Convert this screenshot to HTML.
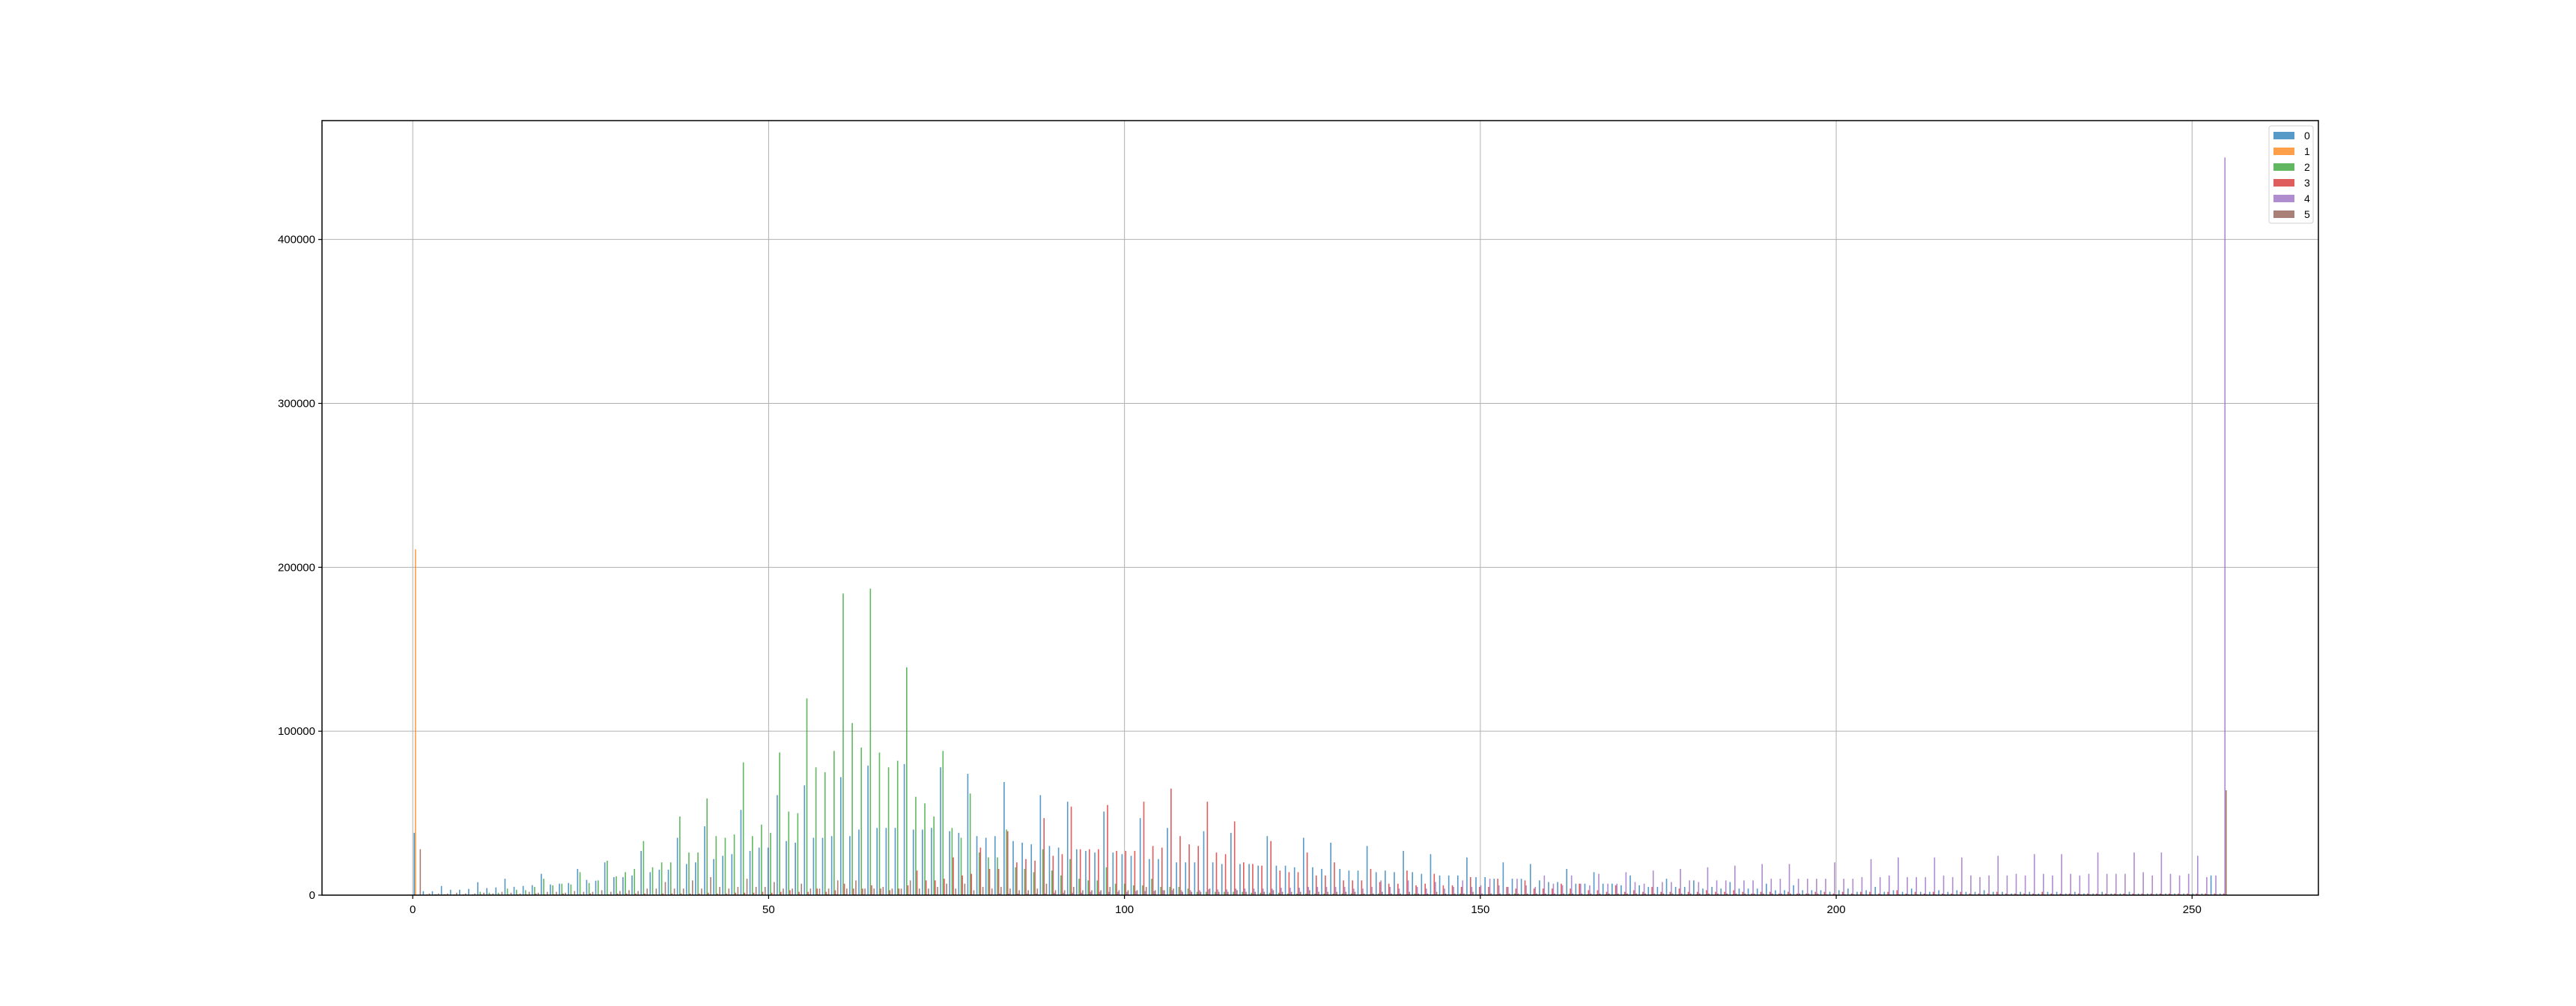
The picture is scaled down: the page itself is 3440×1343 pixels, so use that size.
<!DOCTYPE html>
<html>
<head>
<meta charset="utf-8">
<style>
html,body{margin:0;padding:0;background:#fff;}
svg{display:block;}
text{font-family:"Liberation Sans","DejaVu Sans",sans-serif;fill:#000;}
</style>
</head>
<body>
<svg id="chart" width="3440" height="1343" viewBox="0 0 3440 1343" xmlns="http://www.w3.org/2000/svg">
<rect x="0" y="0" width="3440" height="1343" fill="#fff"/>
<g id="grid"></g>
<g id="bars"></g>
<rect x="430" y="161" width="2666" height="1034" fill="none" stroke="#000" stroke-width="1.5"/>
<g id="xaxis"></g>
<g id="yaxis"></g>
<g id="legend"></g>
</svg>
<script>
// bin values in thousands (200 bins over 0..255)
const seriesNames = ["0","1","2","3","4","5"];
const xTicks = [0,50,100,150,200,250];
const yTicks = [0,100000,200000,300000,400000];

const blue = [38,2.4,2.4,5.6,3.3,3.3,3.8,7.9,4.3,4.7,10,5.1,5.6,6.1,13,6.5,7,7.4,16,9.3,8.8,20,11,11,12,27,
14,15.5,15.5,35,19,20,42,22,24,25,52,27,29,29,61,33,32,67,35,35,36,72,36,40,79,41,41,41,80,40,40,41,78,39,38,74,36,35,36,
69,33,32,31,61,30,29,57,28,27,26,51,26,25,24,47,22,22,41,20,20,20,39,20,19,38,19,19,18,36,18,18,17,35,17,16,32,16,
15,15,30,14,15,14,27,14,13,25,12,12,12,23,11,11,10,20,10,10,19,9,8,8,16,7,7,14,7,7,6,12,6,5,5,10,5,5,9,4,5,4,8,4,4,4,7,3,3,6,3,3,
3,2,3,4,2,3,5,2,3,2,4,2,2,3,2,3,2,2,3,2,2,1,2,2,1,2,2,1,2,1,1,2,1,1,2,1,1,1,1,1,1,1,1,12,1];

const orange = [211,0.3,0.2,0.2,0.2,0.2,0.2,0.2,0.2,0.2];

const green = [0,0,0.5,0.5,0,0,0,2,1.5,1.5,4,3.3,3,5,10,6,7,6.5,14,7.4,9,21,11.5,14,16,33,
17,20,20,48,26,26,59,36,35,37,81,36,43,38,87,51,50,120,78,75,88,184,105,90,187,87,78,82,139,60,56,48,88,41,35,62,26,23,23,
40,17,16,14,28,15,12,22,10,9,9,17,7,7,6,6,10,5,5,5,4,2,2,2,2,2,2,1.5,1.5,1.5,1.5,1,1,1,1,1,1,1,
1,0.5,0.5,1,0.5,0.5,0.5,1,0.5,0.5,0.5,0.5,1,0.5,0.5,0.5,0.5,0.5,1,0.5,0.5,0.5,0.5,0.5,1,0.5,0.5,0.5,0.5,0.5,0.5,0.5,0.5,0.5,0.5,0.5,0.5,0.5,0.5,0.5,0.3,0.3,0.3,0.3,0.3,0.3,0.3,0.3,0.3,0.3,0.3,0.3];

const red = [0,0.5,0.5,0.5,0.5,0.5,0.5,0.5,0.5,0.5,0.5,0.5,0.5,1,0.5,0.5,1,0.5,0.5,1,0.5,0.5,1,1,1,1,
0.5,1,1,1,1,1,1.5,1,1,1.5,1.5,1.5,2,1.5,2,3,2,2,4,2,3,7,4,4,6,4,3,4,6,15,9,9,10,23,12,13,29,16,16,
39,20,22,21,47,24,25,54,28,28,28,55,27,27,27,57,30,29,65,36,31,30,57,26,25,45,20,19,18,33,15,14,14,26,12,12,20,9,
9,9,16,8,7,7,15,6,7,13,6,6,5,11,5,5,10,5,4,9,4,4,4,7,4,7,3,3,2,6,2,3,2,5,2,2,4,2,2,3,2,2,3,2,1,2,2,1,2,1,1,2,
2,1,2,1,2,2,1,2,3,1,2,1,2,1,1,2,1,1,1,2,1,1,1,1,2,1,1,1,1,1,1,1,1,1,1,1,1,1,1,1,1,1,1,1,1];

const purple = [0,0,0,0,0,0,0,0,0,0,0,0,0,0,0,0,0,0,0,0,0,0,0,0,0,0,0,0,0,0,0,0,0,0,0,0,0,0,0,0,0,
0.5,0.5,0.5,0.5,0.5,0.5,0.5,0.5,0.5,0.5,0.5,0.5,0.5,0.5,0.5,0.5,0.5,0.5,0.5,0.5,0.5,0.5,0.5,
1,1,1,1,1,1,1.5,1.5,1.5,1.5,2,2,2,2,2,2.5,2.5,2.5,3,3,3,3,3,3.5,3.5,3.5,4,4,4,4,4,4.5,4.5,4.5,5,5,5,5,5,
4,4,5,9,5,4,9,5,4,8,4,5,9,5,6,10,6,5,10,6,5,12,7,6,12,7,6,13,7,7,14,8,7,15,8,8,16,9,8,17,9,9,18,9,9,19,10,10,19,10,10,
10,
10,20,10,10,11,22,11,12,23,11,11,11,23,12,11,23,12,11,12,24,12,13,12,25,13,12,25,13,12,13,26,13,13,13,26,14,12,26,13,12,13,24,11,12,450];

const brown = [28,1,1,1,1.5,1,1,1.5,1,2,1.5,1,2,1.5,2,2,1.5,2.5,2,2,3,2,2.5,3,2.5,4,
4,8,4,4,9,4,11,5,4,5,10,5,5,8,4,4,7,4,4,4,9,4,9,4,4,5,4,4,9,4,4,5,7,4,7,3,5,4,5,
4,3,3,4,7,3,3,5,3,3,3,5,3,3,3,5,3,3,4,2,2,2,4,2,2,3,2,2,2,3,2,2,2,3,2,2,2,2,
2,1,1,2,1,1,2,1,1,2,1,1,1,2,1,1,1,1,1,1,1,1,1,1,1,1,1,1,1,1,1,1,1,1,1,1,1,1,1,1,1,1,1,1,1,1,1,1,1,1,1,1,
0.5,0.5,0.5,0.5,0.5,0.5,0.5,0.5,0.5,0.5,0.5,0.5,0.5,0.5,0.5,0.5,0.5,0.5,0.5,0.5,0.5,0.5,0.5,0.5,0.5,0.5,0.5,0.5,0.5,0.5,0.5,0.5,0.5,0.5,0.5,0.5,0.5,0.5,0.5,0.5,0.5,0.5,0.5,0.5,
64];

const series = [blue, orange, green, red, purple, brown];
const colors = ["#1f77b4","#ff7f0e","#2ca02c","#d62728","#9467bd","#8c564b"];

const NS = "http://www.w3.org/2000/svg";
const PL = 430, PR = 3096, PT = 161, PB = 1195;
const XMIN = -12.75, XMAX = 267.75, YMAX = 472500;
const NBINS = 200, BW = 255 / NBINS;
function X(u){ return PL + (u - XMIN) / (XMAX - XMIN) * (PR - PL); }
function Y(v){ return PB - v / YMAX * (PB - PT); }
function mk(tag, attrs, parent){
  const el = document.createElementNS(NS, tag);
  for (const k in attrs) el.setAttribute(k, attrs[k]);
  parent.appendChild(el);
  return el;
}
const grid = document.getElementById('grid');
const barsG = document.getElementById('bars');
const xa = document.getElementById('xaxis');
const ya = document.getElementById('yaxis');
const lg = document.getElementById('legend');

xTicks.forEach(t => {
  const x = X(t);
  const gl = mk('line', {x1:x, x2:x, y1:PT, y2:PB, stroke:'#b0b0b0', 'stroke-width':1}, grid);
  
  
  const tk = mk('line', {x1:x, x2:x, y1:PB, y2:PB+5, stroke:'#000', 'stroke-width':1.2}, xa);
  
  
  const tx = mk('text', {x:x, y:PB+24, 'font-size':15, 'text-anchor':'middle'}, xa);
  tx.textContent = String(t);
  
  
});
yTicks.forEach(t => {
  const y = Y(t);
  const gl = mk('line', {x1:PL, x2:PR, y1:y, y2:y, stroke:'#b0b0b0', 'stroke-width':1}, grid);
  
  
  const tk = mk('line', {x1:PL-5, x2:PL, y1:y, y2:y, stroke:'#000', 'stroke-width':1.2}, ya);
  
  
  const tx = mk('text', {x:PL-9, y:y+5, 'font-size':15, 'text-anchor':'end'}, ya);
  tx.textContent = String(t);
  
  
});

const dw = BW * 0.8 / series.length;
series.forEach((arr, si) => {
  arr.forEach((v, b) => {
    if (!v || b >= NBINS) return;
    const u0 = b * BW + 0.1 * BW + si * dw;
    const x0 = X(u0), x1 = X(u0 + dw);
    const y = Y(v * 1000);
    const r = mk('rect', {x:x0, y:y, width:Math.max(x1 - x0, 1), height:PB - y, fill:colors[si], 'fill-opacity':0.75}, barsG);
    
    
  });
});

const box = mk('rect', {x:3030, y:168, width:59, height:130, rx:3, fill:'#fff', 'fill-opacity':0.8, stroke:'#d0d0d0', 'stroke-width':1}, lg);


seriesNames.forEach((n, i) => {
  const cy = 181 + i * 21;
  const p = mk('rect', {x:3036, y:cy-5, width:28, height:10, fill:colors[i], 'fill-opacity':0.75}, lg);
  
  
  const t = mk('text', {x:3077, y:cy+5, 'font-size':14}, lg);
  t.textContent = n;
  
  
});
</script>
</body>
</html>
